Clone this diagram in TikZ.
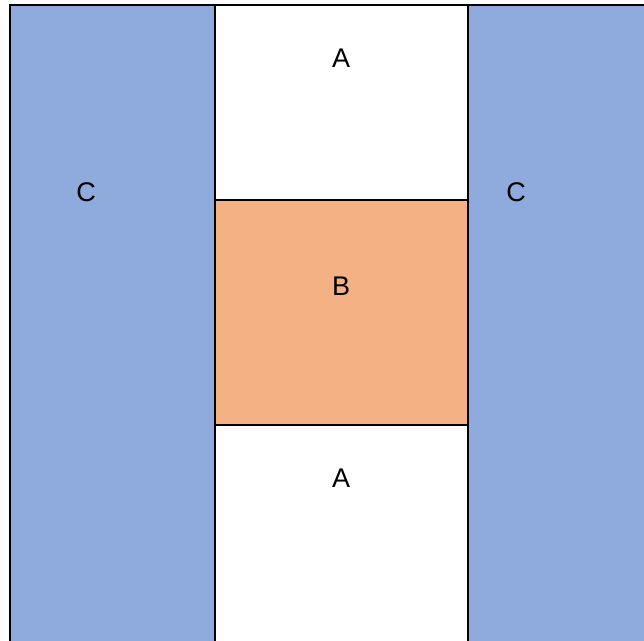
\documentclass[tikz,border=0pt]{standalone}
\usepackage{fontspec}
\setmainfont{Liberation Sans}
\usepackage{tikz}
\definecolor{colC}{HTML}{8FAADC}
\definecolor{colB}{HTML}{F4B183}

\begin{document}
\begin{tikzpicture}[x=1pt, y=1pt,
    cell/.style={draw, line width=2.4pt, anchor=north west, inner sep=0pt, outer sep=0pt},
    lbl/.style={font=\fontsize{27}{32}\selectfont, inner sep=0pt}
]
\useasboundingbox (0,0) rectangle (644,640);
\clip (0,0) rectangle (644,640);
% columns
\node[cell, fill=colC, minimum width=205pt, minimum height=660pt] (leftC) at (10,635) {};
\node[cell, fill=white, minimum width=253pt, minimum height=195pt] (topA) at (215,635) {};
\node[cell, fill=colB, minimum width=253pt, minimum height=225pt] (midB) at (215,440) {};
\node[cell, fill=white, minimum width=253pt, minimum height=240pt] (botA) at (215,215) {};
\node[cell, fill=colC, minimum width=200pt, minimum height=660pt] (rightC) at (468,635) {};
% labels
\node[lbl] (lblCl) at (86,448) {C};
\node[lbl] (lblCr) at (516,448) {C};
\node[lbl] (lblAt) at (341,582) {A};
\node[lbl] (lblB) at (341,354) {B};
\node[lbl] (lblAb) at (341,162) {A};
\end{tikzpicture}
\end{document}
